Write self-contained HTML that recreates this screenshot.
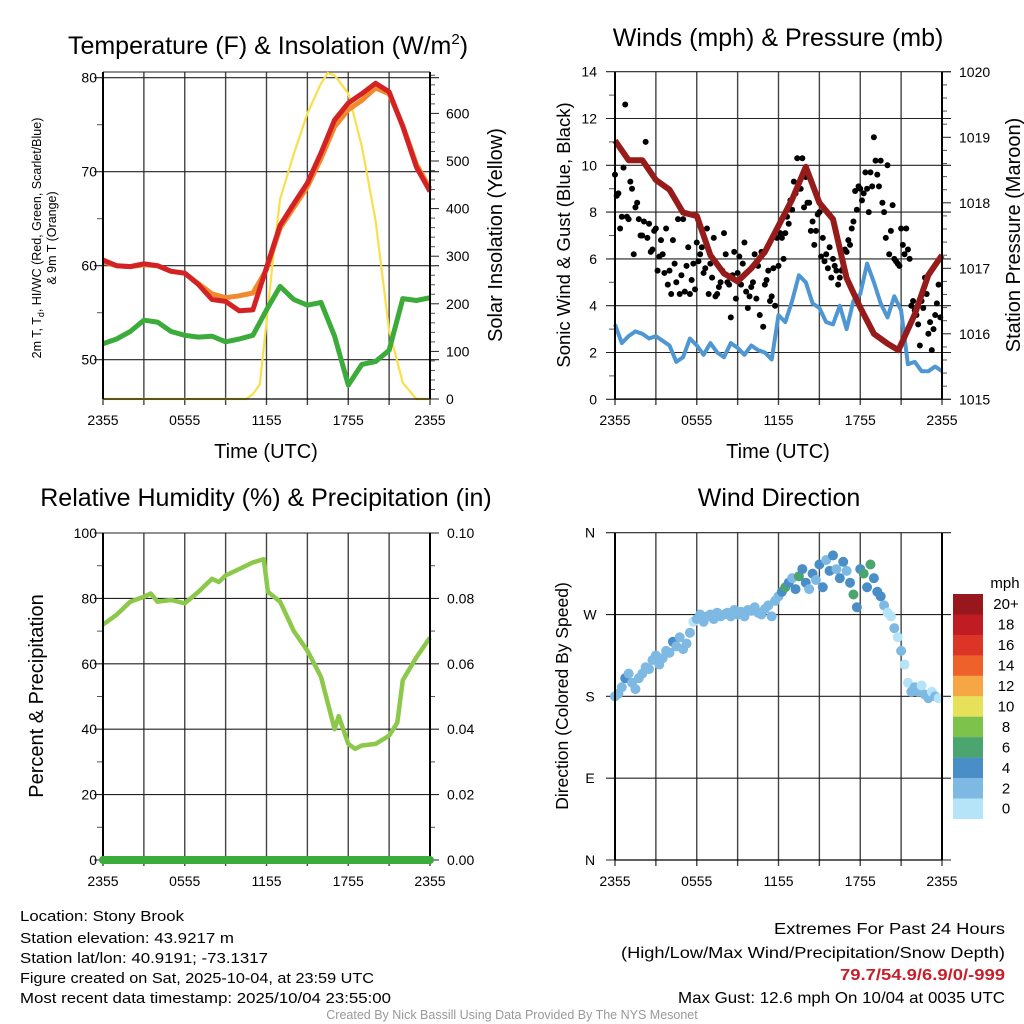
<!DOCTYPE html>
<html><head><meta charset="utf-8"><style>
html,body{margin:0;padding:0;background:#fff;}
svg{display:block;font-family:"Liberation Sans",sans-serif;}
</style></head><body>
<svg id="svg" width="1024" height="1024" viewBox="0 0 1024 1024" xmlns="http://www.w3.org/2000/svg">
<rect width="1024" height="1024" fill="#fff"/>
<text x="268" y="54" font-size="25" text-anchor="middle">Temperature (F) &amp; Insolation (W/m<tspan dy="-10" font-size="15">2</tspan><tspan dy="10">)</tspan></text>
<text x="778" y="46" font-size="25" text-anchor="middle">Winds (mph) &amp; Pressure (mb)</text>
<text x="266" y="506" font-size="25" text-anchor="middle">Relative Humidity (%) &amp; Precipitation (in)</text>
<text x="779" y="506" font-size="25" text-anchor="middle">Wind Direction</text>
<text transform="translate(41,238) rotate(-90)" font-size="12.5" text-anchor="middle">2m T, T<tspan font-size="9" dy="3">d</tspan><tspan dy="-3">, HI/WC (Red, Green, Scarlet/Blue)</tspan></text>
<text transform="translate(56,238) rotate(-90)" font-size="12.5" text-anchor="middle">&amp; 9m T (Orange)</text>
<text transform="translate(502,235) rotate(-90)" font-size="20" text-anchor="middle">Solar Insolation (Yellow)</text>
<text transform="translate(570,235) rotate(-90)" font-size="18.5" text-anchor="middle">Sonic Wind &amp; Gust (Blue, Black)</text>
<text transform="translate(1020,235) rotate(-90)" font-size="20" text-anchor="middle">Station Pressure (Maroon)</text>
<text transform="translate(43,696) rotate(-90)" font-size="20" text-anchor="middle">Percent &amp; Precipitation</text>
<text transform="translate(568,696) rotate(-90)" font-size="17.5" text-anchor="middle">Direction (Colored By Speed)</text>
<text x="266" y="458" font-size="20" text-anchor="middle">Time (UTC)</text>
<text x="778" y="458" font-size="20" text-anchor="middle">Time (UTC)</text>
<text x="1005" y="588" font-size="15" text-anchor="middle">mph</text>
<g font-size="15">
<text x="20" y="921" textLength="164" lengthAdjust="spacingAndGlyphs">Location: Stony Brook</text>
<text x="20" y="943" textLength="214" lengthAdjust="spacingAndGlyphs">Station elevation: 43.9217 m</text>
<text x="20" y="963" textLength="248" lengthAdjust="spacingAndGlyphs">Station lat/lon: 40.9191; -73.1317</text>
<text x="20" y="983" textLength="354" lengthAdjust="spacingAndGlyphs">Figure created on Sat, 2025-10-04, at 23:59 UTC</text>
<text x="20" y="1003" textLength="371" lengthAdjust="spacingAndGlyphs">Most recent data timestamp: 2025/10/04 23:55:00</text>
</g>
<g font-size="16">
<text x="774" y="934" textLength="231" lengthAdjust="spacingAndGlyphs">Extremes For Past 24 Hours</text>
<text x="621" y="958" textLength="384" lengthAdjust="spacingAndGlyphs">(High/Low/Max Wind/Precipitation/Snow Depth)</text>
<text x="840" y="980" textLength="165" lengthAdjust="spacingAndGlyphs" fill="#c8202a" font-weight="bold">79.7/54.9/6.9/0/-999</text>
<text x="678" y="1003" textLength="327" lengthAdjust="spacingAndGlyphs">Max Gust: 12.6 mph On 10/04 at 0035 UTC</text>
</g>
<text x="512" y="1019" font-size="12.5" fill="#999" text-anchor="middle">Created By Nick Bassill Using Data Provided By The NYS Mesonet</text>
</svg>
<script>
// ---------- data ----------
const timeLabels = ["2355","0555","1155","1755","2355"];
const tempHours = [0,1,2,3,4,5,6,7,8,9,10,11,12,13,14,15,16,17,18,19,20,21,22,23,24];
const tempRed = [60.6,60.0,59.9,60.2,60.0,59.4,59.2,58.0,56.4,56.2,55.2,55.3,59.8,64.3,66.6,68.8,72.0,75.5,77.3,78.3,79.4,78.5,74.8,70.5,67.9];
const tempOrange = [60.4,60.0,59.9,60.1,60.0,59.4,59.2,58.1,57.0,56.6,56.8,57.1,59.6,64.0,66.2,68.4,71.4,74.8,76.6,77.6,78.9,78.3,74.9,70.8,68.2];
const dewGreen = [51.7,52.2,53.0,54.2,54.0,53.0,52.6,52.4,52.5,51.9,52.2,52.6,55.3,57.8,56.4,55.8,56.1,52.5,47.3,49.5,49.8,51.0,56.5,56.3,56.6];
const solarHours = [0,10.5,11,11.5,12,12.5,13,14,15,16,16.5,17,18,19,20,21,22,23,24];
const solarVals = [0,0,10,30,160,300,420,515,600,663,685,680,642,530,376,145,34,0,0];
const windHours = [0,0.5,1,1.5,2,2.5,3,3.5,4,4.5,5,5.5,6,6.5,7,7.5,8,8.5,9,9.5,10,10.5,11,11.5,12,12.5,13,13.5,14,14.5,15,15.5,16,16.5,17,17.5,18,18.5,19,19.5,20,20.5,21,21.5,22,22.5,23,23.5,24];
const windVals = [3.2,2.4,2.7,2.9,2.8,2.6,2.7,2.5,2.3,1.6,1.8,2.6,2.3,1.9,2.4,2.0,1.8,2.4,2.2,1.9,2.3,2.1,2.0,1.7,3.6,3.3,4.2,5.3,5.0,4.1,3.9,3.3,3.2,4.0,3.0,4.2,4.5,5.8,5.0,4.1,3.5,4.4,3.8,1.5,1.6,1.2,1.2,1.4,1.2];
const pressHours = [0,1,2,3,4,5,6,7,8,9,10,11,12,13,14,15,16,17,18,19,20,20.8,22,23,24];
const pressVals = [1018.95,1018.65,1018.65,1018.35,1018.2,1017.85,1017.8,1017.2,1016.92,1016.8,1017.0,1017.25,1017.65,1018.05,1018.55,1018.0,1017.75,1016.85,1016.4,1016.0,1015.85,1015.75,1016.3,1016.9,1017.2];
const gustVals = [9.6,8.8,7.8,12.6,7.7,9.0,8.2,7.7, 7.0,11.0,7.5,6.4,7.3,6.1,6.2,7.3, 5.5,6.8,5.0,4.5,7.7,5.7,4.5,5.8, 6.7,6.2,5.4,7.3,5.8,6.9,4.5,5.0, 7.1,5.0,3.5,6.3,5.4,4.9,6.7,3.9, 4.8,6.2,5.7,6.3,4.9,5.5,4.4,4.0, 5.7,6.9,7.1,7.5,8.1,8.8,9.0,10.3, 9.5,8.4,7.6,7.2,8.0,6.9,6.2,6.5, 6.0,5.5,5.2,5.6,6.3,6.6,7.6,8.1, 9.0,8.8,9.0,9.7,11.2,9.6,10.2,8.0, 10.0,7.2,6.0,5.8,7.3,6.2,6.4,4.0, 3.8,3.2,4.2,5.2,2.8,2.1,3.6,4.9];
const gustVals2 = [8.7,7.3,9.9,7.8,9.3,6.2,8.4,7.0, 7.6,6.9,6.3,7.2,5.5,6.8,5.4,4.9, 4.5,5.8,7.7,5.3,4.6,6.5,5.1,4.7, 5.9,6.5,5.6,4.5,5.2,4.4,4.8,5.5, 6.2,4.9,5.3,4.3,6.1,5.8,4.6,4.4, 5.0,4.3,3.6,3.1,5.1,4.2,5.6,6.9, 7.1,6.0,7.8,8.5,9.3,10.3,9.0,8.2, 8.4,7.2,6.6,7.9,6.1,5.9,5.6,5.2, 5.7,4.9,5.5,6.4,6.8,7.3,8.9,9.1, 8.5,9.7,8.0,9.1,10.2,9.1,8.4,6.9, 6.2,8.3,5.9,5.7,6.6,7.3,6.0,4.2, 3.6,2.3,3.9,4.5,3.3,3.0,4.1,3.5];
const rhHours = [0,1,2,3,3.5,4,5,6,7,8,8.5,9,10,11,11.8,12.1,13,14,15,16,16.5,17,17.3,18,18.5,19,20,21,21.6,22,23,24];
const rhVals = [72,75,79,80.5,81.5,79,79.5,78.5,82,86,85,87,89,91,92,82,79,70,64,56,48,40,44,35.5,34,35,35.5,38,42,55,62,68];
const precipHours = [0,24];
const precipVals = [0,0];
const dirVals = [180,183,190,200,205,195,188,200, 205,212,210,220,225,215,222,230, 228,240,235,245,232,238,250,262, 265,270,262,268,270,265,272,268, 270,272,268,275,270,273,268,275, 274,278,272,270,276,280,268,285, 290,295,300,305,310,298,312,320, 305,298,315,308,325,300,330,318, 335,320,310,328,318,305,292,278, 320,315,300,325,310,295,290,280, 272,268,255,245,230,215,195,185, 190,185,192,182,178,185,180,178];
const dirSpeed = [2.5,3.0,2.6,4.2,2.8,3.1,2.6,2.9, 3.0,2.7,2.5,3.2,2.9,2.6,3.1,2.8, 3.3,4.3,2.9,3.0,2.7,3.2,2.5,1.8, 3.0,2.7,3.2,2.5,2.9,3.1,2.6,3.0, 2.8,3.1,2.7,3.0,3.3,2.9,2.6,3.2, 2.8,3.0,2.9,3.1,2.7,3.4,2.6,3.2, 3.5,4.5,6.3,4.4,3.6,4.8,6.5,4.6, 4.2,3.5,4.7,3.8,4.5,4.9,3.6,4.3, 4.6,3.5,4.8,4.2,3.9,4.4,6.4,4.5, 4.7,6.6,4.3,6.2,4.8,4.4,4.1,3.5, 1.5,1.2,3.0,1.6,3.2,1.4,1.5,3.0, 2.8,3.1,1.5,2.6,3.3,1.5,2.9,1.4];
const legendLabels = ["20+","18","16","14","12","10","8","6","4","2","0"];
const legendColors = ["#98171c","#c01c24","#dc3427","#ef612b","#f6a645","#e7e15a","#7dc24b","#4aa56f","#4a8ec7","#7db9e3","#b5e3f8"];

// ---------- helpers ----------
const NS="http://www.w3.org/2000/svg";
const svg=document.getElementById('svg');
function mk(tag,attrs,parent){const el=document.createElementNS(NS,tag);for(const k in attrs)el.setAttribute(k,attrs[k]);(parent||svg).appendChild(el);return el;}
const X0L=103,X0R=615,PW=327;
function xL(h){return X0L+h*PW/24;}
function xR(h){return X0R+h*PW/24;}
function grp(name){const g=mk('g',{});return g;}
function pathD(xs,ys,fx,fy){return xs.map((h,i)=>(i?'L':'M')+fx(h).toFixed(1)+' '+fy(ys[i]).toFixed(1)).join(' ');}

function frame(x0,top,bot,name){
  const g=grp(name);
  for(let i=0;i<=8;i++){const x=x0+i*PW/8;
    const l=mk('line',{x1:x,x2:x,y1:top,y2:bot+6,stroke:'#444','stroke-width':1.4},g);
    }
  timeLabels.forEach((t,i)=>{const tx=mk('text',{x:x0+i*PW/4,y:bot+26,'font-size':14,'text-anchor':'middle'},g);tx.textContent=t;
    });
  return g;
}
function hgrid(g,x0,y){const l=mk('line',{x1:x0-9,x2:x0+PW+9,y1:y,y2:y,stroke:'#222','stroke-width':1.1},g);
  }
function tick(g,x,y,len){const l=mk('line',{x1:x,x2:x+len,y1:y,y2:y,stroke:'#555','stroke-width':1},g);
  }
function label(g,x,y,t,anchor,name,size){const tx=mk('text',{x:x,y:y+5,'font-size':size||14,'text-anchor':anchor},g);tx.textContent=t;
  }
function axes(g,x0,top,bot){
  const a=mk('line',{x1:x0,x2:x0,y1:top,y2:bot,stroke:'#000','stroke-width':2},g);
  const b=mk('line',{x1:x0+PW,x2:x0+PW,y1:top,y2:bot,stroke:'#000','stroke-width':2},g);
  const c=mk('line',{x1:x0,x2:x0+PW,y1:bot,y2:bot,stroke:'#000','stroke-width':1.2},g);
}

// ---------- panel 1: temperature ----------
const yT=v=>77.7+(80-v)*9.4, yS=v=>399-v*0.476;
const g1=frame(X0L,72,399,'temperature-panel');
[50,60,70,80].forEach(v=>{hgrid(g1,X0L,yT(v));label(g1,97,yT(v),String(v),'end','temp-tick-label');});
[55,65,75].forEach(v=>tick(g1,X0L-6,yT(v),6));
{const l=mk('line',{x1:X0L,x2:X0L+PW,y1:72,y2:72,stroke:'#222','stroke-width':1.1},g1);}
for(let v=0;v<=680;v+=20){ if(v%100===0){const l=mk('line',{x1:X0L+PW,x2:X0L+PW+9,y1:yS(v),y2:yS(v),stroke:'#222'},g1);label(g1,X0L+PW+16,yS(v),String(v),'start','solar-tick-label');} else tick(g1,X0L+PW,yS(v),5);}
{const p=mk('path',{d:pathD(solarHours,solarVals,xL,yS),fill:'none',stroke:'#f9e04b','stroke-width':2.2},g1);}
{const p=mk('path',{d:pathD(tempHours,dewGreen,xL,yT),fill:'none',stroke:'#3bab3a','stroke-width':5,'stroke-linejoin':'round'},g1);}
{const p=mk('path',{d:pathD(tempHours,tempOrange,xL,yT),fill:'none',stroke:'#f08a2c','stroke-width':5,'stroke-linejoin':'round'},g1);}
{const p=mk('path',{d:pathD(tempHours,tempRed,xL,yT),fill:'none',stroke:'#d42224','stroke-width':5,'stroke-linejoin':'round'},g1);}
axes(g1,X0L,72,399);

// ---------- panel 2: winds ----------
const yW=v=>399.3-v*23.4, yP=v=>399.3-(v-1015)*65.5;
const g2=frame(X0R,72,399,'wind-panel');
for(let v=0;v<=14;v++){ if(v%2===0){hgrid(g2,X0R,yW(v));label(g2,597,yW(v),String(v),'end','wind-tick-label');} else tick(g2,X0R-6,yW(v),6);}
for(let v=1015;v<=1020.01;v+=0.2){const vv=Math.round(v*10)/10; if(Math.abs(vv-Math.round(vv))<0.01){const l=mk('line',{x1:X0R+PW,x2:X0R+PW+9,y1:yP(vv),y2:yP(vv),stroke:'#222'},g2);label(g2,X0R+PW+17,yP(vv),String(Math.round(vv)),'start','pressure-tick-label');} else tick(g2,X0R+PW,yP(vv),5);}
{const p=mk('path',{d:pathD(windHours,windVals,xR,yW),fill:'none',stroke:'#4f97d3','stroke-width':4,'stroke-linejoin':'round'},g2);}
gustVals.forEach((v,i)=>{const c=mk('circle',{cx:xR(i*0.25),cy:yW(v),r:3,fill:'#000'},g2);});
gustVals2.forEach((v,i)=>{const c=mk('circle',{cx:xR(i*0.25+0.125),cy:yW(v),r:3,fill:'#000'},g2);});
{const p=mk('path',{d:pathD(pressHours,pressVals,xR,yP),fill:'none',stroke:'#961b1b','stroke-width':6,'stroke-linejoin':'round'},g2);}
axes(g2,X0R,72,399);

// ---------- panel 3: RH ----------
const yRH=v=>860-v*3.27, yPr=v=>860-v*3270;
const g3=frame(X0L,533,860,'humidity-panel');
for(let v=0;v<=100;v+=10){ if(v%20===0){hgrid(g3,X0L,yRH(v));label(g3,97,yRH(v),String(v),'end','rh-tick-label');} else tick(g3,X0L-6,yRH(v),6);}
for(let v=0;v<=10;v++){ if(v%2===0){label(g3,X0L+PW+17,yPr(v/100),(v/100).toFixed(2),'start','precip-tick-label');} else tick(g3,X0L+PW,yPr(v/100),5);}
{const p=mk('path',{d:pathD(rhHours,rhVals,xL,yRH),fill:'none',stroke:'#8cc84a','stroke-width':4.5,'stroke-linejoin':'round'},g3);}
axes(g3,X0L,533,860);
{const p=mk('path',{d:pathD(precipHours,precipVals,xL,yPr),fill:'none',stroke:'#3bab3a','stroke-width':8,'stroke-linecap':'round'},g3);}

// ---------- panel 4: direction ----------
const yD=d=>860-d*(327.3/360);
const g4=frame(X0R,533,860,'direction-panel');
const dirLabels=["N","E","S","W","N"];
[0,90,180,270,360].forEach((d,i)=>{hgrid(g4,X0R,yD(d));label(g4,590,yD(d),dirLabels[i],'middle','direction-tick-label');});
function spdColor(s){const idx=Math.min(10,Math.floor(s/2));return legendColors[10-idx];}
dirVals.forEach((d,i)=>{const c=mk('circle',{cx:xR(i*0.25),cy:yD(d),r:5,fill:spdColor(dirSpeed[i])},g4);});
axes(g4,X0R,533,860);
const lg=grp('speed-legend');
legendColors.forEach((c,i)=>{const r=mk('rect',{x:953,y:594+i*20.45,width:30,height:20.6,fill:c},lg);
  label(lg,1006,594+i*20.45+10.2,legendLabels[i],'middle','legend-label',15);});
</script>
</body></html>
